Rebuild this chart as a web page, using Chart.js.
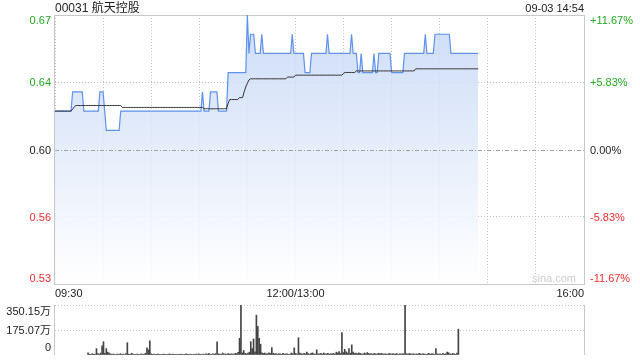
<!DOCTYPE html>
<html>
<head>
<meta charset="utf-8">
<script src="https://cdn.jsdelivr.net/npm/chart.js@4"></script>
<style>
  html, body { margin: 0; padding: 0; background: #fff; }
  #wrap { position: relative; width: 640px; height: 360px; }
  canvas { position: absolute; left: 0; }
  #priceChart { top: 0; }
  #volChart { top: 300px; }
</style>
</head>
<body>
<div id="wrap">
  <canvas id="priceChart" width="640" height="300"></canvas>
  <canvas id="volChart" width="640" height="60"></canvas>
</div>
<script>
const stockTitle = '00031 航天控股';
const timeStamp = '09-03 14:54';
const prevClose = 0.60;

// tick labels (bottom -> top)
const pctTicks = [-11.67, -5.83, 0, 5.83, 11.67];
const priceTickLabels = ['0.53', '0.56', '0.60', '0.64', '0.67'];
const pctTickLabels = ['-11.67%', '-5.83%', '0.00%', '+5.83%', '+11.67%'];
const timeTickMinutes = [0, 150, 330];
const timeTickLabels = ['09:30', '12:00/13:00', '16:00'];
const volTickValues = [0, 175.07, 350.15];
const volTickLabels = ['0', '175.07万', '350.15万'];

// one value per trading minute from 09:30
const price = [
  0.62, 0.62, 0.62, 0.62, 0.62, 0.62, 0.62, 0.62, 0.62, 0.62, 0.62, 0.63, 0.63, 0.63, 0.63,
  0.63, 0.63, 0.63, 0.62, 0.62, 0.62, 0.62, 0.62, 0.62, 0.62, 0.62, 0.62, 0.62, 0.63, 0.63,
  0.63, 0.62, 0.61, 0.61, 0.61, 0.61, 0.61, 0.61, 0.61, 0.61, 0.61, 0.62, 0.62, 0.62, 0.62,
  0.62, 0.62, 0.62, 0.62, 0.62, 0.62, 0.62, 0.62, 0.62, 0.62, 0.62, 0.62, 0.62, 0.62, 0.62,
  0.62, 0.62, 0.62, 0.62, 0.62, 0.62, 0.62, 0.62, 0.62, 0.62, 0.62, 0.62, 0.62, 0.62, 0.62,
  0.62, 0.62, 0.62, 0.62, 0.62, 0.62, 0.62, 0.62, 0.62, 0.62, 0.62, 0.62, 0.62, 0.62, 0.62,
  0.62, 0.62, 0.63, 0.62, 0.62, 0.62, 0.62, 0.63, 0.63, 0.63, 0.63, 0.63, 0.62, 0.62, 0.62,
  0.62, 0.62, 0.62, 0.64, 0.64, 0.64, 0.64, 0.64, 0.64, 0.64, 0.64, 0.64, 0.64, 0.64, 0.64,
  0.67, 0.65, 0.66, 0.66, 0.66, 0.65, 0.65, 0.65, 0.65, 0.66, 0.65, 0.65, 0.65, 0.65, 0.65,
  0.65, 0.65, 0.65, 0.65, 0.65, 0.65, 0.65, 0.65, 0.65, 0.65, 0.65, 0.65, 0.65, 0.66, 0.65,
  0.65, 0.65, 0.65, 0.65, 0.65, 0.65, 0.64, 0.64, 0.64, 0.64, 0.65, 0.65, 0.65, 0.65, 0.65,
  0.65, 0.65, 0.65, 0.65, 0.65, 0.66, 0.65, 0.65, 0.65, 0.65, 0.65, 0.65, 0.65, 0.65, 0.65,
  0.65, 0.65, 0.65, 0.65, 0.65, 0.66, 0.65, 0.65, 0.65, 0.64, 0.64, 0.65, 0.64, 0.64, 0.64,
  0.64, 0.64, 0.64, 0.64, 0.65, 0.64, 0.64, 0.65, 0.65, 0.65, 0.65, 0.65, 0.65, 0.65, 0.65,
  0.64, 0.64, 0.64, 0.64, 0.64, 0.64, 0.64, 0.64, 0.65, 0.65, 0.65, 0.65, 0.65, 0.65, 0.65,
  0.65, 0.65, 0.65, 0.65, 0.65, 0.65, 0.66, 0.65, 0.65, 0.65, 0.65, 0.65, 0.66, 0.66, 0.66,
  0.66, 0.66, 0.66, 0.66, 0.66, 0.66, 0.66, 0.65, 0.65, 0.65, 0.65, 0.65, 0.65, 0.65, 0.65,
  0.65, 0.65, 0.65, 0.65, 0.65, 0.65, 0.65, 0.65, 0.65, 0.65
];

const avgPrice = [
  0.62, 0.62, 0.62, 0.62, 0.62, 0.62, 0.62, 0.62, 0.62, 0.62, 0.62, 0.621, 0.6222, 0.6229, 0.6229,
  0.6229, 0.6229, 0.6229, 0.6229, 0.6229, 0.6229, 0.6229, 0.6229, 0.6229, 0.6229, 0.6229, 0.6229, 0.6229, 0.6229, 0.6229,
  0.6229, 0.6229, 0.6229, 0.6229, 0.6229, 0.6229, 0.6229, 0.6229, 0.6229, 0.6229, 0.6229, 0.6229, 0.6219, 0.6219, 0.6219,
  0.6219, 0.6219, 0.6219, 0.6219, 0.6219, 0.6219, 0.6219, 0.6219, 0.6219, 0.6219, 0.6219, 0.6219, 0.6219, 0.6219, 0.6219,
  0.6219, 0.6219, 0.6219, 0.6219, 0.6219, 0.6219, 0.6219, 0.6219, 0.6219, 0.6219, 0.6219, 0.6219, 0.6219, 0.6219, 0.6219,
  0.6219, 0.6219, 0.6219, 0.6219, 0.6219, 0.6219, 0.6219, 0.6219, 0.6219, 0.6219, 0.6219, 0.6219, 0.6219, 0.6219, 0.6219,
  0.6219, 0.6219, 0.6219, 0.6212, 0.6212, 0.6212, 0.6212, 0.6212, 0.6212, 0.6212, 0.6212, 0.6212, 0.6212, 0.6212, 0.6212,
  0.6212, 0.6212, 0.6212, 0.624, 0.626, 0.626, 0.626, 0.626, 0.626, 0.626, 0.627, 0.627, 0.627, 0.63, 0.6326,
  0.6345, 0.6362, 0.6368, 0.6368, 0.6368, 0.6368, 0.6368, 0.6368, 0.6368, 0.6368, 0.6368, 0.6368, 0.6368, 0.6368, 0.6368,
  0.6368, 0.6368, 0.6368, 0.6368, 0.6368, 0.6368, 0.6368, 0.6368, 0.6368, 0.6368, 0.6377, 0.6377, 0.6377, 0.6377, 0.6377,
  0.6387, 0.6387, 0.6387, 0.6387, 0.6387, 0.6387, 0.6387, 0.6387, 0.6387, 0.6387, 0.6387, 0.6387, 0.6387, 0.6387, 0.6387,
  0.6387, 0.6387, 0.6387, 0.6387, 0.6387, 0.6387, 0.6387, 0.6387, 0.6387, 0.6387, 0.6387, 0.6387, 0.6387, 0.6387, 0.6387,
  0.6397, 0.6401, 0.6401, 0.6401, 0.6401, 0.6401, 0.6401, 0.6401, 0.6409, 0.6409, 0.6409, 0.6409, 0.6409, 0.6409, 0.6409,
  0.6409, 0.6409, 0.6409, 0.6409, 0.6409, 0.6409, 0.6409, 0.6409, 0.6409, 0.6409, 0.6409, 0.6409, 0.6409, 0.6409, 0.6409,
  0.6409, 0.6409, 0.6409, 0.6409, 0.6409, 0.6409, 0.6409, 0.6409, 0.6409, 0.6409, 0.6409, 0.6409, 0.6409, 0.6409, 0.6409,
  0.642, 0.642, 0.642, 0.642, 0.642, 0.642, 0.642, 0.642, 0.642, 0.642, 0.642, 0.642, 0.642, 0.642, 0.642,
  0.642, 0.642, 0.642, 0.642, 0.642, 0.642, 0.642, 0.642, 0.642, 0.642, 0.642, 0.642, 0.642, 0.642, 0.642,
  0.642, 0.642, 0.642, 0.642, 0.642, 0.642, 0.642, 0.642, 0.642, 0.642
];

// volume, 万股
const volume = [
  15, 6, 4, 9, 5, 7, 45, 10, 6, 14, 64, 93, 12, 45, 20,
  14, 8, 5, 7, 3, 5, 7, 4, 9, 5, 6, 3, 10, 86, 6,
  5, 12, 6, 4, 3, 7, 5, 4, 8, 3, 6, 12, 50, 36, 100,
  8, 5, 6, 3, 5, 7, 4, 3, 5, 6, 3, 4, 5, 8, 3,
  5, 6, 3, 4, 5, 3, 6, 4, 3, 5, 8, 4, 3, 6, 4,
  3, 5, 6, 4, 9, 5, 3, 6, 4, 8, 5, 11, 6, 4, 8,
  6, 10, 93, 8, 6, 5, 14, 6, 8, 4, 11, 6, 9, 7, 6,
  12, 9, 18, 117, 350.15, 15, 31, 11, 8, 14, 20, 93, 45, 112, 22,
  279, 200, 117, 76, 16, 11, 14, 8, 9, 15, 11, 52, 12, 8, 10,
  6, 9, 8, 5, 11, 6, 9, 8, 4, 6, 14, 8, 50, 11, 6,
  121, 14, 9, 6, 11, 8, 20, 9, 6, 11, 15, 8, 6, 36, 9,
  8, 11, 6, 14, 9, 8, 12, 6, 9, 8, 11, 6, 20, 14, 24,
  11, 157, 17, 40, 22, 14, 45, 12, 71, 20, 11, 14, 9, 15, 11,
  8, 6, 14, 9, 17, 11, 8, 9, 6, 11, 8, 6, 12, 9, 11,
  8, 6, 9, 5, 8, 11, 6, 9, 8, 6, 11, 5, 8, 6, 9,
  8, 348, 9, 6, 11, 8, 6, 9, 5, 8, 6, 11, 8, 6, 9,
  6, 5, 8, 11, 6, 9, 8, 5, 45, 8, 6, 9, 5, 11, 6,
  8, 20, 16, 9, 6, 11, 8, 5, 14, 181
];

const FONT = '"Liberation Sans", Arial, "Noto Sans CJK SC", sans-serif';
const GREEN = '#22a822';
const RED = '#f02c2c';
const DARK = '#222';

const priceTickValues = pctTicks.map(p => prevClose * (1 + p / 100));
const tickColor = i => pctTicks[i] > 0 ? GREEN : (pctTicks[i] < 0 ? RED : DARK);

function labelBaseline(i, n, pix, a) {
  if (i === n - 1) return a.top + 8.5;
  if (i === 0) return a.bottom - 2.5;
  return pix + 4;
}

const priceDecor = {
  id: 'priceDecor',
  beforeDatasetsDraw(chart) {
    const { ctx, chartArea: a } = chart;
    ctx.save();
    ctx.strokeStyle = '#c8c8c8';
    ctx.lineWidth = 1;
    ctx.strokeRect(a.left - 0.5, a.top + 0.5, a.right - a.left + 1, a.bottom - a.top);
    ctx.restore();
  },
  afterDatasetsDraw(chart) {
    const { ctx, chartArea: a, scales } = chart;
    ctx.save();
    const y0 = Math.round(scales.y.getPixelForValue(prevClose)) + 0.5;
    ctx.strokeStyle = '#a0a0a0';
    ctx.lineWidth = 1;
    ctx.setLineDash([4, 2, 1, 2]);
    ctx.beginPath();
    ctx.moveTo(a.left, y0);
    ctx.lineTo(a.right, y0);
    ctx.stroke();
    ctx.restore();
  },
  afterDraw(chart) {
    const { ctx, chartArea: a, scales } = chart;
    ctx.save();
    ctx.font = '12px ' + FONT;
    ctx.fillStyle = '#222';
    ctx.textAlign = 'left';
    ctx.textBaseline = 'alphabetic';
    ctx.fillText(stockTitle, a.left, 12);
    ctx.font = '11px ' + FONT;
    ctx.textAlign = 'right';
    ctx.fillText(timeStamp, a.right, 12);

    const n = priceTickValues.length;
    priceTickValues.forEach((v, i) => {
      const y = labelBaseline(i, n, scales.y.getPixelForValue(v), a);
      ctx.fillStyle = tickColor(i);
      ctx.textAlign = 'right';
      ctx.fillText(priceTickLabels[i], a.left - 4, y);
      ctx.textAlign = 'left';
      ctx.fillText(pctTickLabels[i], a.right + 6, y);
    });

    ctx.fillStyle = '#222';
    timeTickMinutes.forEach((m, i) => {
      const x = scales.x.getPixelForValue(m);
      ctx.textAlign = i === 0 ? 'left' : (i === timeTickMinutes.length - 1 ? 'right' : 'center');
      ctx.fillText(timeTickLabels[i], x, 296.5);
    });

    ctx.fillStyle = '#cccccc';
    ctx.textAlign = 'right';
    ctx.fillText('sina.com', a.right - 8, a.bottom - 2);
    ctx.restore();
  }
};

const priceCtx = document.getElementById('priceChart').getContext('2d');
new Chart(priceCtx, {
  type: 'line',
  data: {
    datasets: [
      {
        label: '均价',
        data: avgPrice.map((v, i) => ({ x: i, y: v })),
        borderColor: '#333333',
        borderWidth: 1,
        pointRadius: 0,
        fill: false,
        order: 0
      },
      {
        label: '价格',
        data: price.map((v, i) => ({ x: i, y: v })),
        borderColor: '#5e92ee',
        borderWidth: 1.2,
        pointRadius: 0,
        fill: 'start',
        backgroundColor: function (context) {
          const area = context.chart.chartArea;
          if (!area) return 'rgba(205,221,247,0.8)';
          const g = context.chart.ctx.createLinearGradient(0, area.top, 0, area.bottom);
          g.addColorStop(0, 'rgba(196,214,246,0.85)');
          g.addColorStop(1, 'rgba(255,255,255,0.85)');
          return g;
        },
        order: 1
      }
    ]
  },
  options: {
    responsive: false,
    animation: false,
    devicePixelRatio: 1,
    layout: { padding: { top: 15, left: 0, right: 0, bottom: 0 } },
    plugins: { legend: { display: false }, tooltip: { enabled: false } },
    scales: {
      x: {
        type: 'linear',
        min: 0,
        max: 330,
        z: 1,
        ticks: { display: false, stepSize: 30 },
        grid: { color: '#c2c2c2', drawTicks: false },
        border: { display: false, dash: [1, 2] },
        afterFit: s => { s.height = 16; }
      },
      y: {
        position: 'left',
        min: prevClose * (1 - 0.1167),
        max: prevClose * (1 + 0.1167),
        z: 1,
        afterBuildTicks: s => { s.ticks = priceTickValues.map(v => ({ value: v })); },
        ticks: { display: false },
        grid: {
          drawTicks: false,
          color: c => (c.index === 1 || c.index === 3) ? '#c2c2c2' : 'rgba(0,0,0,0)'
        },
        border: { display: false, dash: [1, 2] },
        afterFit: s => { s.width = 55; }
      },
      y1: {
        position: 'right',
        min: -11.67,
        max: 11.67,
        ticks: { display: false },
        grid: { display: false, drawTicks: false },
        border: { display: false },
        afterFit: s => { s.width = 56; }
      }
    }
  },
  plugins: [priceDecor]
});

const volDecor = {
  id: 'volDecor',
  beforeDatasetsDraw(chart) {
    const { ctx, chartArea: a } = chart;
    ctx.save();
    ctx.strokeStyle = '#c8c8c8';
    ctx.lineWidth = 1;
    ctx.beginPath();
    ctx.moveTo(a.left - 0.5, a.top);
    ctx.lineTo(a.left - 0.5, a.bottom);
    ctx.moveTo(a.right + 0.5, a.top);
    ctx.lineTo(a.right + 0.5, a.bottom);
    ctx.stroke();
    ctx.restore();
  },
  afterDraw(chart) {
    const { ctx, chartArea: a, scales } = chart;
    ctx.save();
    ctx.font = '11px ' + FONT;
    ctx.fillStyle = '#222';
    ctx.textAlign = 'right';
    const n = volTickValues.length;
    volTickValues.forEach((v, i) => {
      const pix = scales.y.getPixelForValue(v);
      let y = pix + 3.5;
      if (i === n - 1) y = a.top + 9.5;
      if (i === 0) y = a.bottom - 4;
      ctx.fillText(volTickLabels[i], a.left - 4, y);
    });
    ctx.restore();
  }
};

const volCtx = document.getElementById('volChart').getContext('2d');
new Chart(volCtx, {
  type: 'bar',
  data: {
    datasets: [{
      label: '成交量',
      data: volume.map((v, i) => ({ x: i, y: v })),
      backgroundColor: '#444444',
      barThickness: 1
    }]
  },
  options: {
    responsive: false,
    animation: false,
    devicePixelRatio: 1,
    layout: { padding: { top: 5, left: 0, right: 56, bottom: 5 } },
    plugins: { legend: { display: false }, tooltip: { enabled: false } },
    scales: {
      x: {
        type: 'linear',
        display: false,
        min: 0,
        max: 330
      },
      y: {
        min: 0,
        max: 350.15,
        afterBuildTicks: s => { s.ticks = volTickValues.map(v => ({ value: v })); },
        ticks: { display: false },
        grid: {
          drawTicks: false,
          color: c => c.index === 0 ? 'rgba(0,0,0,0)' : '#c4c4c4'
        },
        border: { display: false, dash: [1, 2] },
        afterFit: s => { s.width = 55; }
      }
    }
  },
  plugins: [volDecor]
});
</script>
</body>
</html>
